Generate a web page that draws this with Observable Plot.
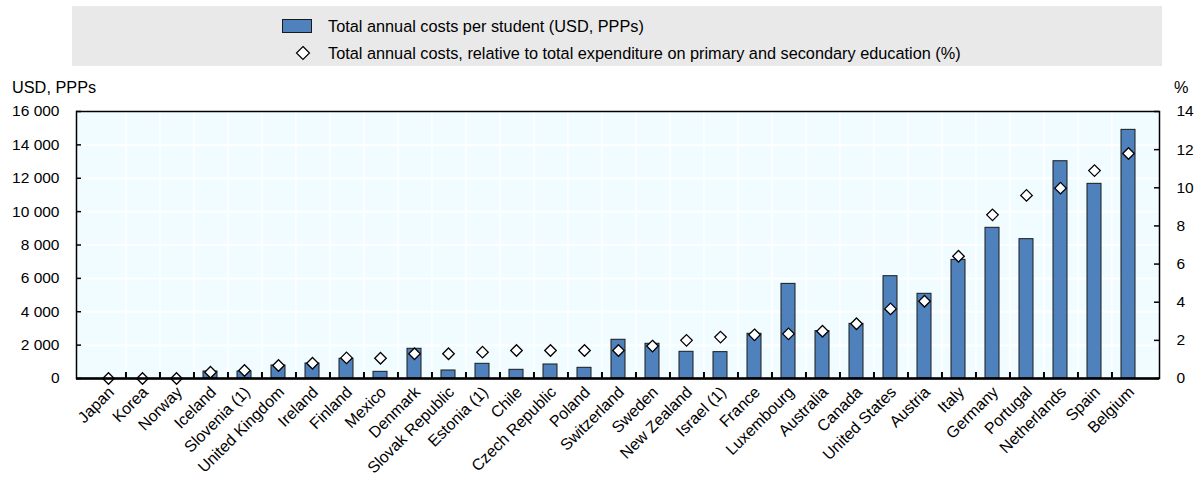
<!DOCTYPE html>
<html>
<head>
<meta charset="utf-8">
<script src="https://cdn.jsdelivr.net/npm/d3@7"></script>
<script src="https://cdn.jsdelivr.net/npm/@observablehq/plot@0.6"></script>
<style>
  body { margin: 0; background: #fff; font-family: "Liberation Sans", Arial, sans-serif; }
  #wrap { position: relative; width: 1202px; height: 479px; overflow: hidden; }
  #legend { position: absolute; left: 72px; top: 6px; width: 1090px; height: 60px; background: #e9e9e9; }
  .sw { position: absolute; left: 282px; top: 19px; width: 28px; height: 12px; background: #4f81bd; border: 1px solid #1a1a1a; }
  .lt { position: absolute; left: 328px; font-size: 16.3px; line-height: 18px; color: #000; white-space: nowrap; }
  .dm { position: absolute; left: 295px; top: 45px; }
  .al { position: absolute; font-size: 16.3px; line-height: 18px; color: #000; white-space: nowrap; }
  #chart { position: absolute; left: 0; top: 75px; }
</style>
</head>
<body>
<div id="wrap">
  <div id="legend"></div>
  <div class="sw"></div>
  <div class="lt" style="top:17px">Total annual costs per student (USD, PPPs)</div>
  <svg class="dm" width="16" height="16"><polygon points="8,1.5 14.5,8 8,14.5 1.5,8" fill="#fff" stroke="#000" stroke-width="1.2"/></svg>
  <div class="lt" style="top:44px">Total annual costs, relative to total expenditure on primary and secondary education (%)</div>
  <div class="al" style="left:12px; top:78px">USD, PPPs</div>
  <div class="al" style="left:1174px; top:78px">%</div>
  <div id="chart"></div>
</div>
<script>
const countries = ["Japan","Korea","Norway","Iceland","Slovenia (1)","United Kingdom","Ireland","Finland","Mexico","Denmark","Slovak Republic","Estonia (1)","Chile","Czech Republic","Poland","Switzerland","Sweden","New Zealand","Israel (1)","France","Luxembourg","Australia","Canada","United States","Austria","Italy","Germany","Portugal","Netherlands","Spain","Belgium"];
const costsUSD = [0,0,0,420,420,780,900,1180,400,1780,480,880,520,840,640,2320,2080,1600,1580,2680,5670,2840,3275,6130,5075,7110,9030,8350,13020,11665,14900];
const pctOfExpenditure = [0,0,0,0.33,0.42,0.68,0.8,1.08,1.06,1.3,1.3,1.38,1.47,1.47,1.47,1.47,1.7,2.0,2.17,2.29,2.34,2.48,2.87,3.65,4.05,6.41,8.58,9.6,9.98,10.9,11.8];
const usdTicks = [0,2000,4000,6000,8000,10000,12000,14000,16000];
const pctTicks = [0,2,4,6,8,10,12,14];

const W = 1202, H = 404, ML = 76, MR = 43, MT = 36, MB = 101;
const plotW = W - ML - MR, plotH = H - MT - MB;
const usdMax = usdTicks[usdTicks.length - 1], pctMax = pctTicks[pctTicks.length - 1];
const k = usdMax / pctMax;
const step = plotW / countries.length;
const rows = countries.map((c, i) => ({country: c, cost: costsUSD[i], pct: pctOfExpenditure[i]}));
const pctPos = pctTicks.map(p => p * k);
const boundaries = countries.slice(0, -1);
const fmt = v => d3.format(",")(v).replace(/,/g, " ");
const font = "'Liberation Sans', Arial, sans-serif";

const chart = Plot.plot({
  width: W, height: H,
  marginLeft: ML, marginRight: MR, marginTop: MT, marginBottom: MB,
  style: {fontFamily: font, fontSize: "15.5px", color: "#000", background: "transparent", overflow: "visible"},
  x: {domain: countries, paddingInner: 0.59, paddingOuter: 0.295},
  y: {domain: [0, usdMax]},
  marks: [
    Plot.frame({fill: "#f0fcff", stroke: null}),
    Plot.ruleY(usdTicks, {stroke: "#fff", strokeWidth: 2}),
    Plot.ruleX(boundaries, {x: d => d, dx: step / 2, stroke: "#fff", strokeWidth: 1.5}),
    Plot.barY(rows, {x: "country", y: "cost", fill: "#4f81bd", stroke: "#1a1a1a", strokeWidth: 1}),
    Plot.tickX(boundaries, {x: d => d, dx: step / 2, insetTop: plotH - 6, stroke: "#000", strokeWidth: 2}),
    Plot.tickY(usdTicks, {y: d => d, insetRight: plotW - 5, stroke: "#000", strokeWidth: 1.5}),
    Plot.tickY(pctPos, {y: d => d, insetLeft: plotW - 5, stroke: "#000", strokeWidth: 1.5}),
    Plot.dot(rows, {x: "country", y: d => d.pct * k, symbol: "diamond2", r: 5.2, fill: "#fff", stroke: "#000", strokeWidth: 1.3}),
    Plot.frame({stroke: "#000", strokeWidth: 1.5}),
    Plot.ruleY([0], {stroke: "#000", strokeWidth: 2.5}),
    Plot.axisY(usdTicks, {anchor: "left", tickSize: 0, tickPadding: 17, tickFormat: fmt, label: null}),
    Plot.axisY(pctPos, {anchor: "right", tickSize: 0, tickPadding: 17, tickFormat: v => String(Math.round(v / k)), textAnchor: "start", label: null}),
    Plot.axisX({tickRotate: -45, tickSize: 0, tickPadding: 11, dx: 3, fontSize: 16, label: null})
  ]
});
document.getElementById("chart").appendChild(chart);
</script>
</body>
</html>
